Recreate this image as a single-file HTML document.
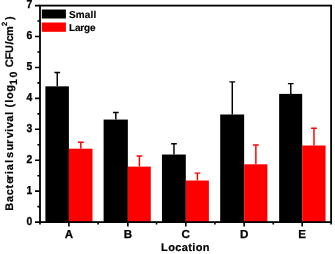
<!DOCTYPE html><html><head><meta charset="utf-8"><style>html,body{margin:0;padding:0;background:#fff}svg{display:block;will-change:transform}text{text-rendering:geometricPrecision;font-family:"Liberation Sans",sans-serif;font-weight:bold;fill:#000}</style></head><body>
<svg width="335" height="254" viewBox="0 0 335 254">
<rect width="335" height="254" fill="#fff"/>
<rect x="45.40" y="86.35" width="23.50" height="135.75" fill="#000"/>
<rect x="68.90" y="148.70" width="23.60" height="73.40" fill="#f00"/>
<path d="M57.25 86.35V72.50M54.40 72.50H60.10" stroke="#000" stroke-width="1.45" fill="none"/>
<path d="M80.80 148.70V142.20M77.95 142.20H83.65" stroke="#f00" stroke-width="1.45" fill="none"/>
<rect x="103.60" y="119.57" width="24.25" height="102.53" fill="#000"/>
<rect x="127.85" y="166.60" width="22.95" height="55.50" fill="#f00"/>
<path d="M115.82 119.57V112.45M112.97 112.45H118.67" stroke="#000" stroke-width="1.45" fill="none"/>
<path d="M139.42 166.60V156.08M136.57 156.08H142.27" stroke="#f00" stroke-width="1.45" fill="none"/>
<rect x="161.95" y="154.53" width="23.85" height="67.57" fill="#000"/>
<rect x="185.80" y="180.53" width="23.10" height="41.57" fill="#f00"/>
<path d="M173.97 154.53V143.70M171.12 143.70H176.82" stroke="#000" stroke-width="1.45" fill="none"/>
<path d="M197.45 180.53V173.10M194.60 173.10H200.30" stroke="#f00" stroke-width="1.45" fill="none"/>
<rect x="220.20" y="114.50" width="23.95" height="107.60" fill="#000"/>
<rect x="244.15" y="164.30" width="23.25" height="57.80" fill="#f00"/>
<path d="M232.28 114.50V81.85M229.43 81.85H235.12" stroke="#000" stroke-width="1.45" fill="none"/>
<path d="M255.87 164.30V144.94M253.02 144.94H258.72" stroke="#f00" stroke-width="1.45" fill="none"/>
<rect x="279.15" y="93.90" width="23.05" height="128.20" fill="#000"/>
<rect x="302.20" y="145.50" width="23.35" height="76.60" fill="#f00"/>
<path d="M290.77 93.90V83.60M287.92 83.60H293.62" stroke="#000" stroke-width="1.45" fill="none"/>
<path d="M313.98 145.50V128.23M311.12 128.23H316.83" stroke="#f00" stroke-width="1.45" fill="none"/>
<rect x="40.0" y="5.6" width="291.1" height="216.5" fill="none" stroke="#000" stroke-width="1.8"/>
<path d="M35.00 222.10H40.0M37.40 206.64H40.0M35.00 191.17H40.0M37.40 175.71H40.0M35.00 160.24H40.0M37.40 144.78H40.0M35.00 129.31H40.0M37.40 113.85H40.0M35.00 98.39H40.0M37.40 82.92H40.0M35.00 67.46H40.0M37.40 51.99H40.0M35.00 36.53H40.0M37.40 21.06H40.0M35.00 5.60H40.0M68.90 222.1V226.50M127.85 222.1V226.50M185.80 222.1V226.50M244.15 222.1V226.50M302.20 222.1V226.50M40.00 222.1V224.60M98.14 222.1V224.60M156.52 222.1V224.60M214.90 222.1V224.60M273.28 222.1V224.60M331.10 222.1V224.60" stroke="#000" stroke-width="1.6" fill="none"/>
<text transform="translate(32.2,224.90) scale(0.9,1)" font-size="11.5" text-anchor="end" stroke="#000" stroke-width="0.3">0</text>
<text transform="translate(32.2,193.97) scale(0.9,1)" font-size="11.5" text-anchor="end" stroke="#000" stroke-width="0.3">1</text>
<text transform="translate(32.2,163.04) scale(0.9,1)" font-size="11.5" text-anchor="end" stroke="#000" stroke-width="0.3">2</text>
<text transform="translate(32.2,132.11) scale(0.9,1)" font-size="11.5" text-anchor="end" stroke="#000" stroke-width="0.3">3</text>
<text transform="translate(32.2,101.19) scale(0.9,1)" font-size="11.5" text-anchor="end" stroke="#000" stroke-width="0.3">4</text>
<text transform="translate(32.2,70.26) scale(0.9,1)" font-size="11.5" text-anchor="end" stroke="#000" stroke-width="0.3">5</text>
<text transform="translate(32.2,39.33) scale(0.9,1)" font-size="11.5" text-anchor="end" stroke="#000" stroke-width="0.3">6</text>
<text transform="translate(32.2,8.40) scale(0.9,1)" font-size="11.5" text-anchor="end" stroke="#000" stroke-width="0.3">7</text>
<text x="68.90" y="238.1" font-size="11.6" text-anchor="middle" stroke="#000" stroke-width="0.25">A</text>
<text x="127.85" y="238.1" font-size="11.6" text-anchor="middle" stroke="#000" stroke-width="0.25">B</text>
<text x="185.80" y="238.1" font-size="11.6" text-anchor="middle" stroke="#000" stroke-width="0.25">C</text>
<text x="244.15" y="238.1" font-size="11.6" text-anchor="middle" stroke="#000" stroke-width="0.25">D</text>
<text x="302.20" y="238.1" font-size="11.6" text-anchor="middle" stroke="#000" stroke-width="0.25">E</text>
<text x="185.5" y="251.2" font-size="11" stroke="#000" stroke-width="0.2" text-anchor="middle" letter-spacing="0.37">Location</text>
<text transform="translate(12.60,0) rotate(-90)" font-size="11" stroke="#000" stroke-width="0.2"><tspan x="-210.87 -202.04 -195.21 -188.57 -183.82 -179.20 -174.37 -170.24 -162.97 -161.31 -158.01 -150.62 -144.00 -138.34 -131.97 -128.14 -121.84 -114.97 -110.90 -107.60 -102.77 -99.06 -91.77" y="0">Bacterial survival (log</tspan><tspan font-size="10.5" x="-85.04 -77.52" y="4.2">10</tspan><tspan x="-70.67 -67.37 -59.57 -53.01 -44.44 -41.51 -35.90" y="0"> CFU/cm</tspan><tspan font-size="7.5" x="-26.02" y="-5.7">2</tspan><tspan x="-19.99" y="0">)</tspan></text>
<rect x="41.8" y="9.5" width="24.1" height="9.0" fill="#000"/>
<rect x="41.8" y="22.5" width="24.1" height="9.3" fill="#f00"/>
<text x="69" y="18.4" font-size="10" letter-spacing="0.15" stroke="#000" stroke-width="0.15">Small</text>
<text x="69.0" y="30.8" font-size="10" letter-spacing="-0.15" stroke="#000" stroke-width="0.15">Large</text>
</svg></body></html>
